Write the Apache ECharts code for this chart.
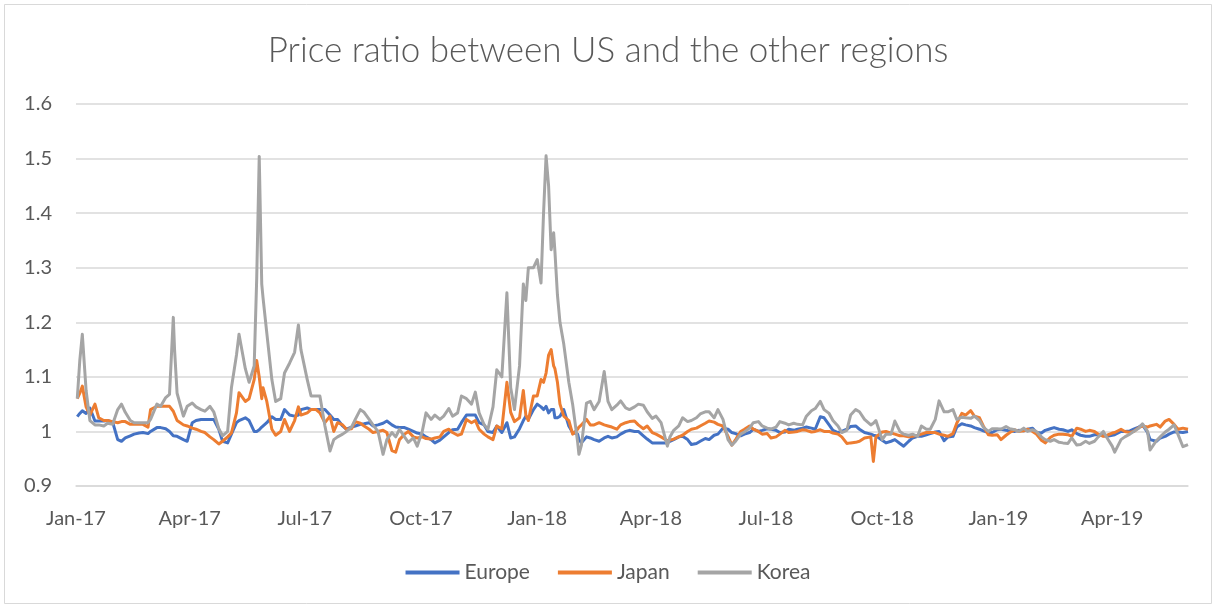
<!DOCTYPE html>
<html><head><meta charset="utf-8">
<script src="https://cdn.jsdelivr.net/npm/echarts@6/dist/echarts.min.js"></script>
<style>html,body{margin:0;padding:0;background:#fff}#c{width:1216px;height:608px}</style>
</head><body><div id="c"></div>
<script>
const dates = [
'2017-01-02','2017-01-04','2017-01-06','2017-01-09','2017-01-12','2017-01-16','2017-01-19','2017-01-23','2017-01-26','2017-01-30',
'2017-02-03','2017-02-06','2017-02-09','2017-02-13','2017-02-16','2017-02-20','2017-02-23','2017-02-27','2017-03-01','2017-03-06',
'2017-03-09','2017-03-13','2017-03-16','2017-03-19','2017-03-20','2017-03-22','2017-03-27','2017-03-30','2017-04-03','2017-04-06',
'2017-04-10','2017-04-13','2017-04-17','2017-04-20','2017-04-24','2017-04-27','2017-05-01','2017-05-04','2017-05-08','2017-05-10',
'2017-05-15','2017-05-18','2017-05-22','2017-05-24','2017-05-26','2017-05-28','2017-05-29','2017-06-01','2017-06-05','2017-06-08',
'2017-06-12','2017-06-15','2017-06-19','2017-06-23','2017-06-26','2017-06-28','2017-07-03','2017-07-06','2017-07-10','2017-07-13',
'2017-07-17','2017-07-21','2017-07-24','2017-07-27','2017-07-31','2017-08-03','2017-08-07','2017-08-10','2017-08-14','2017-08-17',
'2017-08-21','2017-08-24','2017-08-28','2017-09-01','2017-09-04','2017-09-08','2017-09-11','2017-09-14','2017-09-18','2017-09-21',
'2017-09-25','2017-09-28','2017-10-02','2017-10-05','2017-10-09','2017-10-12','2017-10-16','2017-10-19','2017-10-23','2017-10-26',
'2017-10-30','2017-11-02','2017-11-06','2017-11-10','2017-11-13','2017-11-16','2017-11-20','2017-11-23','2017-11-27','2017-11-30',
'2017-12-04','2017-12-08','2017-12-11','2017-12-14','2017-12-18','2017-12-21','2017-12-23','2017-12-25','2017-12-29','2018-01-01',
'2018-01-04','2018-01-06','2018-01-08','2018-01-10','2018-01-12','2018-01-14','2018-01-15','2018-01-17','2018-01-19','2018-01-22',
'2018-01-26','2018-01-29','2018-02-02','2018-02-03','2018-02-05','2018-02-09','2018-02-12','2018-02-15','2018-02-19','2018-02-23',
'2018-02-26','2018-03-01','2018-03-05','2018-03-08','2018-03-12','2018-03-15','2018-03-19','2018-03-22','2018-03-26','2018-03-29',
'2018-04-02','2018-04-05','2018-04-09','2018-04-14','2018-04-16','2018-04-19','2018-04-23','2018-04-26','2018-04-30','2018-05-03',
'2018-05-07','2018-05-10','2018-05-14','2018-05-17','2018-05-21','2018-05-24','2018-05-28','2018-06-01','2018-06-04','2018-06-07',
'2018-06-11','2018-06-14','2018-06-18','2018-06-21','2018-06-25','2018-06-28','2018-07-02','2018-07-05','2018-07-09','2018-07-12',
'2018-07-16','2018-07-19','2018-07-23','2018-07-26','2018-07-30','2018-08-02','2018-08-06','2018-08-09','2018-08-13','2018-08-16',
'2018-08-20','2018-08-23','2018-08-27','2018-08-30','2018-09-03','2018-09-06','2018-09-10','2018-09-13','2018-09-17','2018-09-22',
'2018-09-24','2018-09-26','2018-10-01','2018-10-04','2018-10-08','2018-10-11','2018-10-15','2018-10-18','2018-10-22','2018-10-25',
'2018-10-29','2018-11-01','2018-11-05','2018-11-08','2018-11-12','2018-11-15','2018-11-19','2018-11-22','2018-11-26','2018-11-29',
'2018-12-03','2018-12-06','2018-12-10','2018-12-13','2018-12-17','2018-12-20','2018-12-24','2018-12-27','2018-12-31','2019-01-03',
'2019-01-07','2019-01-10','2019-01-14','2019-01-17','2019-01-21','2019-01-24','2019-01-28','2019-01-31','2019-02-04','2019-02-07',
'2019-02-11','2019-02-14','2019-02-18','2019-02-21','2019-02-25','2019-02-28','2019-03-04','2019-03-07','2019-03-11','2019-03-14',
'2019-03-18','2019-03-21','2019-03-25','2019-03-28','2019-04-01','2019-04-03','2019-04-08','2019-04-11','2019-04-15','2019-04-18',
'2019-04-22','2019-04-25','2019-04-29','2019-05-01','2019-05-06','2019-05-09','2019-05-13','2019-05-16','2019-05-20','2019-05-23',
'2019-05-27','2019-05-31'
];
const europe = [
1.027,1.033,1.038,1.033,1.043,1.019,1.019,1.019,1.020,1.017,
0.985,0.982,0.988,0.992,0.995,0.997,0.998,0.996,1.000,1.007,
1.007,1.005,1.000,0.992,0.991,0.991,0.985,0.982,1.016,1.020,
1.022,1.022,1.022,1.022,1.004,0.982,0.979,0.995,1.016,1.020,
1.025,1.020,1.000,1.000,1.003,1.008,1.010,1.016,1.027,1.022,
1.022,1.040,1.030,1.028,1.030,1.040,1.043,1.040,1.040,1.040,
1.040,1.030,1.022,1.022,1.010,1.004,1.008,1.010,1.013,1.014,
1.016,1.010,1.012,1.015,1.019,1.012,1.008,1.007,1.007,1.004,
1.000,0.997,0.995,0.990,0.985,0.979,0.984,0.990,0.998,1.003,
1.004,1.016,1.030,1.030,1.030,1.016,1.012,1.000,0.998,1.010,
0.998,1.016,0.988,0.990,1.005,1.020,1.028,1.022,1.040,1.050,
1.045,1.040,1.046,1.034,1.040,1.040,1.025,1.025,1.028,1.040,
1.010,0.998,0.995,0.985,0.979,0.990,0.988,0.985,0.982,0.988,
0.991,0.988,0.990,0.995,1.000,1.002,1.000,1.000,0.992,0.986,
0.979,0.979,0.979,0.979,0.982,0.985,0.990,0.991,0.985,0.976,
0.978,0.982,0.987,0.985,0.993,0.995,1.006,1.004,0.998,0.996,
0.992,0.995,0.998,1.004,1.000,1.002,1.005,1.004,1.002,0.998,
0.999,1.004,1.002,1.004,1.006,1.008,1.006,1.004,1.027,1.025,
1.012,1.002,0.998,1.000,1.004,1.009,1.010,1.004,0.998,0.995,
0.993,0.992,0.984,0.979,0.982,0.985,0.978,0.973,0.982,0.988,
0.991,0.991,0.994,0.996,0.999,1.000,0.983,0.990,0.991,1.008,
1.014,1.012,1.010,1.007,1.004,1.001,0.998,0.998,1.003,1.004,
1.002,1.001,1.000,1.002,1.001,1.004,1.006,0.998,0.997,1.002,
1.005,1.007,1.004,1.003,1.000,1.003,0.996,0.993,0.991,0.991,
0.994,0.994,0.992,0.991,0.993,0.994,1.000,1.000,1.001,1.004,
1.008,1.012,0.998,0.985,0.982,0.988,0.991,0.995,0.999,0.999,
0.998,1.000
];
const japan = [
1.060,1.070,1.083,1.045,1.030,1.050,1.025,1.020,1.020,1.018,
1.016,1.018,1.018,1.013,1.013,1.013,1.013,1.008,1.040,1.046,
1.046,1.046,1.046,1.037,1.035,1.020,1.012,1.010,1.006,1.004,
1.000,0.998,0.990,0.985,0.977,0.982,0.990,0.997,1.034,1.071,
1.055,1.060,1.095,1.130,1.100,1.060,1.080,1.055,1.004,0.993,
1.000,1.022,1.000,1.020,1.045,1.030,1.034,1.040,1.040,1.034,
1.016,1.028,1.000,1.016,1.012,1.004,1.005,1.018,1.015,1.010,
1.004,0.998,1.000,1.002,0.998,0.965,0.962,0.985,0.995,1.000,
0.990,0.988,0.990,0.987,0.986,0.988,0.990,1.000,1.004,0.998,
0.993,0.995,1.022,1.016,1.020,1.004,0.995,0.990,0.985,1.010,
1.005,1.090,1.035,1.018,1.025,1.075,1.030,1.020,1.065,1.065,
1.095,1.090,1.107,1.140,1.150,1.120,1.115,1.090,1.050,1.028,
1.020,0.995,1.004,1.008,1.012,1.022,1.012,1.012,1.016,1.012,
1.010,1.008,1.004,1.012,1.016,1.018,1.019,1.012,1.005,1.010,
0.998,0.995,0.990,0.983,0.984,0.986,0.990,0.993,1.000,1.004,
1.006,1.010,1.015,1.019,1.017,1.013,1.010,0.991,0.975,0.985,
1.000,1.004,1.010,1.004,1.000,0.995,0.996,0.988,0.990,0.995,
1.002,0.998,0.999,1.000,1.003,1.002,0.999,1.000,1.003,1.000,
1.000,0.997,0.995,0.990,0.978,0.979,0.980,0.982,0.988,0.990,
0.945,0.990,0.999,1.000,0.997,0.995,0.992,0.992,0.990,0.991,
0.993,0.995,0.998,0.998,0.998,0.995,0.993,0.991,0.996,1.015,
1.033,1.030,1.038,1.028,1.025,1.010,0.994,0.993,0.994,0.985,
0.993,0.998,1.003,1.000,1.001,1.004,1.000,0.995,0.984,0.979,
0.989,0.993,0.995,0.995,0.994,0.991,1.006,1.004,1.000,1.002,
1.000,0.995,0.991,0.993,0.997,0.998,1.004,1.000,0.998,1.000,
1.007,1.010,1.008,1.010,1.013,1.008,1.019,1.022,1.013,1.004,
1.006,1.004
];
const korea = [
1.060,1.130,1.178,1.075,1.020,1.012,1.012,1.010,1.015,1.013,
1.040,1.050,1.035,1.020,1.016,1.016,1.016,1.016,1.022,1.050,
1.046,1.062,1.068,1.209,1.150,1.070,1.028,1.046,1.052,1.045,
1.040,1.037,1.046,1.036,1.005,0.992,1.000,1.080,1.140,1.178,
1.115,1.090,1.120,1.280,1.504,1.270,1.245,1.180,1.095,1.055,
1.060,1.107,1.125,1.145,1.195,1.150,1.095,1.065,1.065,1.065,
1.010,0.964,0.985,0.990,0.995,1.000,1.008,1.022,1.040,1.035,
1.022,1.012,1.000,0.958,0.985,0.998,0.990,1.004,0.990,0.980,
0.988,0.973,1.000,1.034,1.022,1.030,1.022,1.028,1.042,1.028,
1.034,1.065,1.060,1.050,1.072,1.034,1.012,1.004,1.045,1.113,
1.100,1.254,1.080,1.040,1.120,1.270,1.240,1.300,1.300,1.315,
1.272,1.400,1.505,1.450,1.333,1.364,1.330,1.250,1.200,1.160,
1.090,1.050,0.980,0.958,0.975,1.052,1.055,1.040,1.055,1.110,
1.055,1.040,1.048,1.056,1.043,1.040,1.045,1.050,1.048,1.036,
1.024,1.028,1.016,0.973,0.990,1.002,1.010,1.025,1.018,1.020,
1.025,1.032,1.036,1.036,1.025,1.040,1.022,0.985,0.975,0.982,
0.995,0.999,1.006,1.016,1.018,1.010,1.006,1.004,1.008,1.018,
1.015,1.012,1.015,1.013,1.012,1.028,1.038,1.042,1.055,1.040,
1.033,1.020,1.010,0.998,1.002,1.030,1.040,1.036,1.022,1.012,
1.015,1.020,0.985,0.995,0.995,1.019,1.000,0.995,0.993,0.995,
0.991,1.010,1.004,1.004,1.022,1.056,1.036,1.036,1.040,1.022,
1.026,1.025,1.024,1.028,1.020,1.008,1.000,1.005,1.005,1.004,
1.009,1.005,1.003,1.000,1.006,1.000,1.003,1.000,0.990,0.985,
0.982,0.985,0.980,0.979,0.978,0.988,0.975,0.976,0.982,0.978,
0.982,0.990,1.000,0.988,0.973,0.962,0.985,0.990,0.995,1.000,
1.006,1.014,1.000,0.966,0.983,0.990,0.999,1.004,1.012,0.995,
0.972,0.976
];
const quarterTicks = ['2017-01-01','2017-04-01','2017-07-01','2017-10-01','2018-01-01','2018-04-01','2018-07-01','2018-10-01','2019-01-01','2019-04-01'];
const monthNames = ['Jan','Feb','Mar','Apr','May','Jun','Jul','Aug','Sep','Oct','Nov','Dec'];

function toTime(s){const p=s.split('-');return new Date(+p[0],+p[1]-1,+p[2]).getTime();}
function pairs(vals){return dates.map((d,i)=>[toTime(d),vals[i]]);}

const FONT = 'Lato, "Open Sans", sans-serif';
const chart = echarts.init(document.getElementById('c'), null, {renderer:'canvas'});
chart.setOption({
  animation:false,
  backgroundColor:'#ffffff',
  title:{text:'Price ratio between US and the other regions',left:'center',top:28,
    textStyle:{fontFamily:FONT,fontSize:35,fontWeight:300,color:'#595959'}},
  graphic:[{type:'rect',shape:{x:4.5,y:4.5,width:1207,height:599},style:{fill:'none',stroke:'#d9d9d9',lineWidth:1},silent:true,z:-1}],
  grid:{left:76,right:28,top:104,bottom:122,containLabel:false},
  legend:{data:['Europe','Japan','Korea'],top:557,left:'center',icon:'rect',itemWidth:54,itemHeight:4,itemGap:28,
    textStyle:{fontFamily:FONT,fontSize:21,color:'#595959'}},
  xAxis:{type:'value',min:toTime('2017-01-01'),max:toTime('2019-05-31'),scale:true,
    axisLine:{show:true,lineStyle:{color:'#d9d9d9',width:1.5}},axisTick:{show:false},splitLine:{show:false},
    axisLabel:{customValues:quarterTicks.map(toTime),margin:23,fontFamily:FONT,fontSize:20,color:'#595959',
      formatter:function(v){const d=new Date(v);return monthNames[d.getMonth()]+'-'+String(d.getFullYear()).slice(2);}}},
  yAxis:{type:'value',min:0.9,max:1.6,interval:0.1,
    axisLine:{show:false},axisTick:{show:false},
    splitLine:{lineStyle:{color:'#d9d9d9',width:1.5}},
    axisLabel:{margin:24,fontFamily:FONT,fontSize:20,color:'#595959'}},
  series:[
    {name:'Europe',type:'line',data:pairs(europe),showSymbol:false,symbol:'none',lineStyle:{width:3,color:'#4472C4',join:'round'},itemStyle:{color:'#4472C4'}},
    {name:'Japan',type:'line',data:pairs(japan),showSymbol:false,symbol:'none',lineStyle:{width:3,color:'#ED7D31',join:'round'},itemStyle:{color:'#ED7D31'}},
    {name:'Korea',type:'line',data:pairs(korea),showSymbol:false,symbol:'none',lineStyle:{width:3,color:'#A5A5A5',join:'round'},itemStyle:{color:'#A5A5A5'}}
  ]
});
</script></body></html>
